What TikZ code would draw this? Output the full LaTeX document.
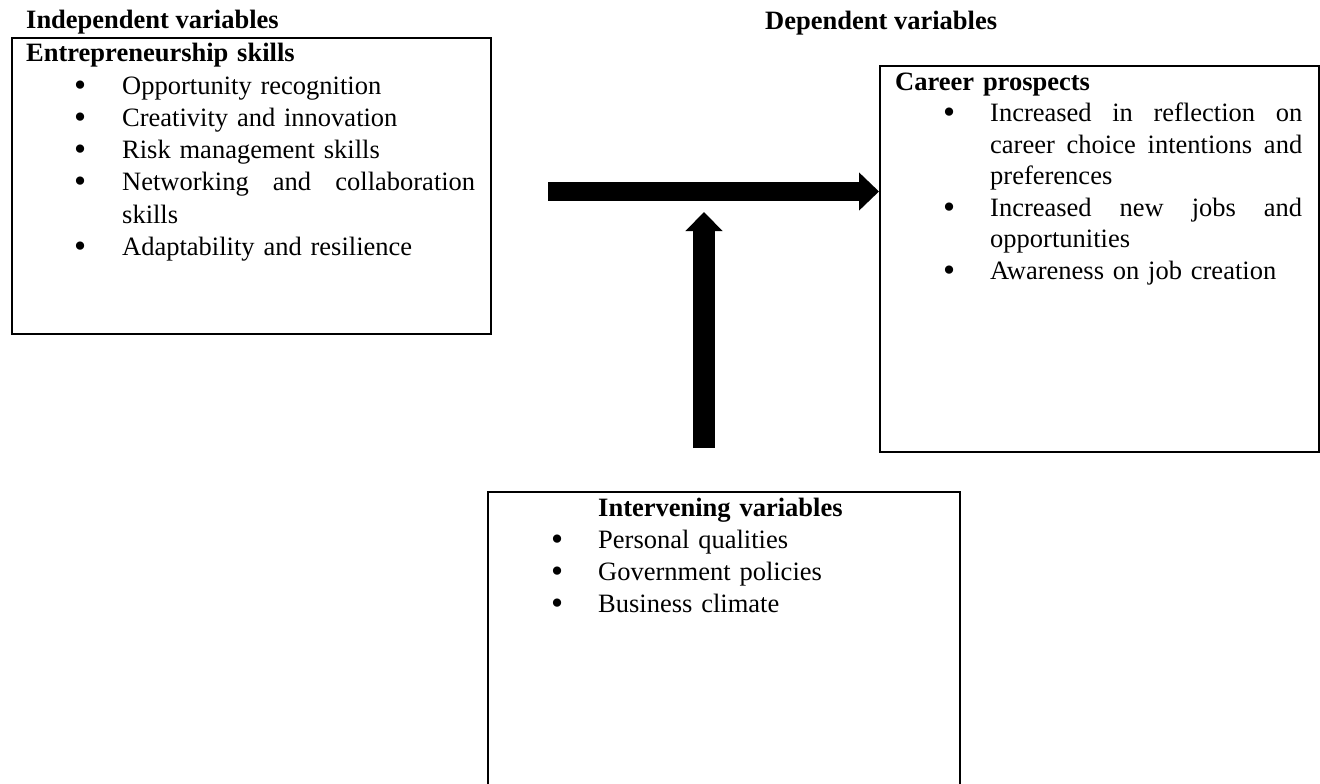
\documentclass[tikz,border=0pt]{standalone}
\usepackage{fontspec}
\usepackage{graphicx}
\setmainfont{Liberation Serif}
\usetikzlibrary{arrows.meta}
\newcommand\bul[1]{\leavevmode\llap{\raisebox{-2bp}{\scalebox{1.3}{\textbullet}}\hspace{#1}}}
\newcommand\jline[2]{\hbox to #1{#2}}
\begin{document}
\begin{tikzpicture}[x=1bp,y=-1bp,
  vbox/.style={draw, line width=1.6bp, inner sep=0pt, anchor=north west},
  hdr/.style={font=\fontsize{26.5bp}{32bp}\selectfont\bfseries, anchor=base west, inner sep=0pt},
  body/.style={anchor=base west, inner sep=0pt, align=left, text width=#1},
]
\useasboundingbox[fill=white] (0,0) rectangle (1320,783);

% headings
\node[hdr] (indep) at (26,29) {Independent variables};
\node[hdr] (dep) at (765,30) {Dependent variables};

% boxes
\node[vbox, minimum width=479bp, minimum height=296bp] (lbox) at (11,37) {};
\node[vbox, minimum width=439bp, minimum height=386bp] (rbox) at (879,65) {};
\begin{scope}
\clip (0,0) rectangle (1320,783);
\node[vbox, minimum width=472bp, minimum height=320bp] (bbox) at (487,491) {};
\end{scope}

% left box content
\node[body=460bp, font=\fontsize{26.5bp}{32.2bp}\selectfont] (ltext) at (26,62) {%
\textbf{Entrepreneurship skills}\\
\hspace*{96bp}\bul{36bp}Opportunity recognition\\
\hspace*{96bp}\bul{36bp}Creativity and innovation\\
\hspace*{96bp}\bul{36bp}Risk management skills\\
\hspace*{96bp}\bul{36bp}\jline{353bp}{Networking\hfill and\hfill collaboration}\\
\hspace*{96bp}skills\\
\hspace*{96bp}\bul{36bp}Adaptability and resilience};

% right box content
\node[body=420bp, font=\fontsize{26.5bp}{31.5bp}\selectfont] (rtext) at (895,90) {%
\textbf{Career prospects}\\
\hspace*{95bp}\bul{35bp}\jline{312bp}{Increased\hfill in\hfill reflection\hfill on}\\
\hspace*{95bp}\jline{312bp}{career\hfill choice\hfill intentions\hfill and}\\
\hspace*{95bp}preferences\\
\hspace*{95bp}\bul{35bp}\jline{312bp}{Increased\hfill new\hfill jobs\hfill and}\\
\hspace*{95bp}opportunities\\
\hspace*{95bp}\bul{35bp}Awareness on job creation};

% bottom box content
\node[body=340bp, font=\fontsize{26.5bp}{32.3bp}\selectfont] (btext) at (598,516) {%
\textbf{Intervening variables}\\
\bul{35bp}Personal qualities\\
\bul{35bp}Government policies\\
\bul{35bp}Business climate};

% arrows
\coordinate (hstart) at (548,191.5);
\coordinate (vstart) at (704,448);
\coordinate (vtip) at (704,212);
\draw[line width=19bp, -{Triangle[width=37bp,length=20bp]}] (hstart) -- (hstart -| rbox.west);
\draw[line width=22bp, -{Triangle[width=36bp,length=19bp]}] (vstart) -- (vtip);
\end{tikzpicture}
\end{document}
